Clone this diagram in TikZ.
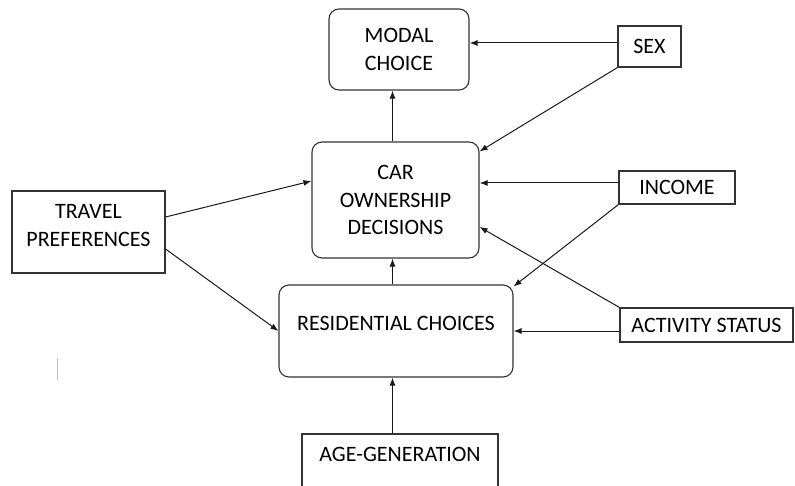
\documentclass[tikz,border=0pt]{standalone}
\usepackage{fontspec}
\setmainfont{Carlito}
\usetikzlibrary{positioning}
\usetikzlibrary{arrows.meta}
\usetikzlibrary{calc}

\tikzset{
  every node/.style={font=\fontsize{22}{27.5}\selectfont, text=black},
  choicebox/.style={draw=black!80, line width=1.1pt, rounded corners=10pt, align=center, inner sep=0pt},
  factorbox/.style={draw=black!80, line width=1.1pt, align=center, inner sep=0pt},
  link/.style={-{Latex[length=8pt,width=6pt]}, line width=1pt, black!90},
}

\begin{document}
\begin{tikzpicture}[x=1pt,y=-1pt]
                \useasboundingbox (0,0) rectangle (795,486);
                % Define the choice boxes
                \node[choicebox, minimum width=140pt, minimum height=81pt] (modal) at (399,49.5) {MODAL\\CHOICE};
                \node[choicebox, minimum width=167pt, minimum height=116pt] (car) at (395.5,200) {CAR\\OWNERSHIP\\DECISIONS};
                \node[choicebox, minimum width=234pt, minimum height=92pt, text depth=16pt] (res) at (396,331) {RESIDENTIAL CHOICES};

                % Define the factor boxes
                \node[factorbox, minimum width=63pt, minimum height=41pt] (sex) at (649.5,46.5) {SEX};
                \node[factorbox, minimum width=116pt, minimum height=33pt] (income) at (677,187.5) {INCOME};
                \node[factorbox, minimum width=173pt, minimum height=34pt] (activity) at (706.5,325) {ACTIVITY STATUS};
                \node[factorbox, minimum width=153pt, minimum height=82pt, text depth=13pt] (travel) at (88.5,232) {TRAVEL\\PREFERENCES};
                \node[factorbox, minimum width=196pt, minimum height=86pt, text depth=46pt] (age) at (400,477) {AGE-GENERATION};

                \coordinate (spine) at (392.5,0);

                % Draw the links
                \draw[link] ([yshift=3.5pt]sex.west) -- ([yshift=3.5pt]sex.west -| modal.east);
                \draw[link] (sex.south west) -- ([yshift=-10pt]car.north east);
                \draw[link] ([yshift=4.5pt]income.west) -- ([yshift=4.5pt]income.west -| car.east);
                \draw[link] (income.south west) -- ([yshift=-2pt]res.north east);
                \draw[link] (activity.north west) -- ([yshift=-27pt]car.east);
                \draw[link] (activity.west |- res.east) -- (res.east);
                \draw[link] ([yshift=15pt]travel.east) -- ([yshift=19pt]car.west);
                \draw[link] ([yshift=-17pt]travel.east) -- (res.west);
                \draw[link] (spine |- car.north) -- (spine |- modal.south);
                \draw[link] (spine |- res.north) -- (spine |- car.south);
                \draw[link] (spine |- age.north) -- (spine |- res.south);

                % stray mark
                \draw[black!25, line width=0.6pt] (57,358) -- (57,380);
\end{tikzpicture}
\end{document}
